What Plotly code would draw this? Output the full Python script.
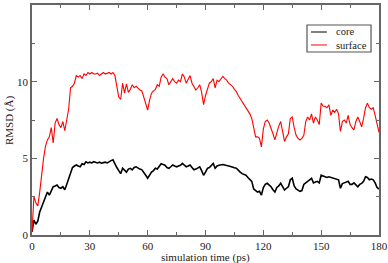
import plotly.graph_objects as go

time_ps = list(range(0, 181))

surface = [
    0.2, 2.5, 2.1, 1.9, 2.8, 4.0, 5.0, 5.8, 6.2, 6.4,
    7.0, 6.0, 7.3, 7.6, 7.2, 7.0, 7.4, 6.8, 7.6, 8.2,
    9.6, 9.7, 9.9, 10.4, 10.3, 10.4, 10.2, 10.5, 10.4, 10.6,
    10.5, 10.6, 10.5, 10.5, 10.55, 10.4, 10.5, 10.6, 10.5, 10.55,
    10.6, 10.5, 10.6, 10.4, 9.7, 9.0, 8.85, 9.9, 9.25, 9.85,
    9.3, 9.5, 9.8, 9.6, 9.7, 9.55, 9.45, 9.4, 9.0, 8.5,
    8.15, 8.8, 9.25, 9.4, 9.5, 9.8, 9.7, 10.3, 10.5, 10.3,
    10.2, 9.8, 10.0, 10.2, 10.0, 9.9, 10.1, 10.0, 10.5, 10.3,
    9.9, 10.2, 10.4, 9.9, 9.7, 9.45, 9.6, 9.8, 9.3, 8.5,
    9.1, 9.5, 9.9, 10.0, 10.2, 9.6, 10.1, 10.0, 10.2, 10.35,
    10.2, 10.1, 9.9, 9.8, 9.7, 9.5, 9.35, 9.1, 8.9, 8.7,
    8.5, 8.3, 8.15, 7.9, 7.6, 7.0, 6.4, 6.4, 6.3, 5.75,
    6.9, 7.4, 7.5, 7.3, 7.0, 6.6, 6.2, 6.7, 7.1, 7.4,
    6.85, 6.1, 6.4, 6.6, 7.6, 7.7, 7.0, 6.5, 6.3, 6.2,
    6.3, 6.5, 7.4, 7.7, 7.5, 7.9, 7.3, 7.7, 7.5, 7.2,
    8.6, 8.4, 8.4, 8.3, 8.5, 7.8, 8.15, 8.0, 8.2, 7.9,
    6.75, 7.4, 7.5, 7.3, 7.8, 7.2, 7.0, 6.85, 7.4, 7.7,
    7.4, 7.05, 7.6, 8.3, 8.6, 8.3, 8.2, 8.3, 7.8, 7.2,
    6.7,
]

core = [
    0.2, 0.97, 0.7, 0.9, 1.5, 1.85, 2.2, 2.5, 2.8, 2.6,
    2.9, 3.15, 3.2, 3.26, 3.1, 3.05, 3.15, 2.95, 3.3, 3.7,
    4.1, 4.4, 4.5, 4.57, 4.5, 4.45, 4.65, 4.6, 4.78, 4.7,
    4.75, 4.7, 4.78, 4.72, 4.7, 4.75, 4.68, 4.72, 4.75, 4.7,
    4.8, 4.85, 4.9, 4.6, 4.4, 4.2, 4.0, 4.35, 4.2, 4.1,
    4.3, 4.35, 4.25, 4.4, 4.45, 4.35, 4.3, 4.25, 4.1, 3.9,
    3.7, 3.9, 4.1, 4.2, 4.35, 4.3, 4.5, 4.65, 4.6, 4.55,
    4.4, 4.35, 4.45, 4.57, 4.5, 4.45, 4.5, 4.55, 4.67, 4.55,
    4.45, 4.5, 4.57, 4.4, 4.25, 4.3, 4.4, 4.45, 4.2, 3.9,
    4.1, 4.35, 4.4, 4.55, 4.67, 4.35, 4.5, 4.55, 4.57, 4.6,
    4.57, 4.55, 4.5, 4.46, 4.4, 4.38, 4.35, 4.2, 4.1, 4.0,
    3.95, 3.9, 3.75, 3.65, 3.5, 3.0, 2.9, 2.8, 2.85, 2.6,
    3.1, 3.3, 3.37, 3.25, 3.15, 2.95, 2.8, 3.1, 3.2, 3.37,
    3.1, 2.93, 3.05, 3.15, 3.6, 3.7, 3.2, 3.0, 2.93, 2.85,
    2.9, 3.3, 3.4, 3.48, 3.6, 3.7, 3.4, 3.45, 3.5, 3.4,
    3.9, 3.85, 3.8, 3.75, 3.8, 3.75, 3.72, 3.7, 3.65, 3.6,
    3.05, 3.35, 3.4, 3.45, 3.5, 3.3, 3.3, 3.4, 3.3, 3.15,
    3.3, 3.37, 3.5, 3.8, 3.75, 3.6, 3.65, 3.6, 3.4, 3.1,
    3.0,
]

series_names = ["core", "surface"]
series_colors = ["black", "red"]

x_ticks = [0, 30, 60, 90, 120, 150, 180]
y_ticks = [0, 5, 10, 15]
x_title = "simulation time (ps)"
y_title = "RMSD (Å)"

fig = go.Figure()
fig.add_trace(go.Scatter(x=time_ps, y=core, mode="lines", name=series_names[0],
                         line=dict(color=series_colors[0], width=1.6)))
fig.add_trace(go.Scatter(x=time_ps, y=surface, mode="lines", name=series_names[1],
                         line=dict(color=series_colors[1], width=1.1)))

serif = "Liberation Serif, Times New Roman, serif"
font = dict(family=serif, size=11, color="#222")
axis_common = dict(
    showgrid=False, zeroline=False, showline=True, linecolor="#666", linewidth=1.5,
    mirror="allticks", ticks="inside", ticklen=5, tickcolor="#666", tickwidth=1,
    tickfont=font, automargin=False,
)
fig.update_layout(
    width=388, height=263,
    margin=dict(l=32, r=9, t=5, b=28),
    paper_bgcolor="white", plot_bgcolor="white",
    font=font,
    showlegend=False,
)

# Legend box drawn in paper coordinates (mimics the boxed legend)
fig.add_shape(type="rect", xref="paper", yref="paper",
              x0=0.7925, x1=0.977, y0=0.7957, y1=0.913,
              line=dict(color="#555", width=1.2), fillcolor="white", layer="above")
legend_y = [0.8826, 0.8261]
for color, ly in zip(series_colors, legend_y):
    fig.add_shape(type="line", xref="paper", yref="paper",
                  x0=0.804, x1=0.850, y0=ly, y1=ly,
                  line=dict(color=color, width=1), layer="above")
fig.add_annotation(xref="paper", yref="paper", x=0.87, y=sum(legend_y) / 2,
                   text="<br>".join(series_names),
                   showarrow=False, xanchor="left", yanchor="middle", align="left",
                   font=dict(family=serif, size=10.5, color="#222"))

# Axis titles placed as annotations
fig.add_annotation(xref="paper", yref="paper", x=0.5, y=-0.065,
                   text=x_title, showarrow=False, xanchor="center", yanchor="top",
                   borderpad=0, font=font)
fig.add_annotation(xref="paper", yref="paper", x=-0.066, y=0.5,
                   text=y_title, showarrow=False, xanchor="center", yanchor="middle",
                   textangle=-90, borderpad=0, font=font)

fig.update_xaxes(range=[0, 180], tickvals=x_ticks, **axis_common,
                 minor=dict(ticks="inside", ticklen=3, dtick=15, tickcolor="#666", tickwidth=1))
fig.update_yaxes(range=[0, 15], tickvals=y_ticks, **axis_common,
                 minor=dict(ticks="inside", ticklen=3, dtick=2.5, tickcolor="#666", tickwidth=1))

fig.write_html("out.html", config={"displayModeBar": False},
               post_script="document.body.style.margin='0';document.body.style.padding='0';")
